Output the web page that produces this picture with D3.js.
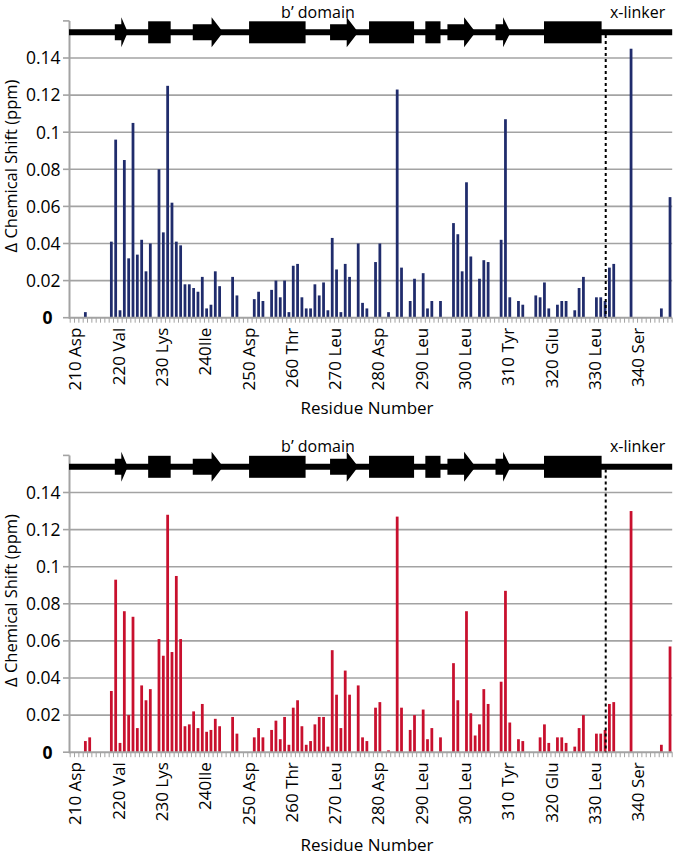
<!DOCTYPE html>
<html><head><meta charset="utf-8">
<script src="https://cdn.jsdelivr.net/npm/d3@7/dist/d3.min.js"></script>
<style>
body{margin:0;background:#fff}
svg text{font-family:"Open Sans",sans-serif;fill:#000}
</style></head>
<body><svg id="chart" width="675" height="856"></svg>
<script>
// ---------- DATA ----------
const firstResidue = 209, lastResidue = 347;
const residues = d3.range(firstResidue, lastResidue + 1);

// Δ chemical shift (ppm), one value per residue 209..347 (null = no data)
const shiftTop = [
 null,null,null,0.003,null,null,null,null,null,0.041,
 0.096,0.004,0.085,0.032,0.105,0.034,0.042,0.025,0.040,null,
 0.080,0.046,0.125,0.062,0.041,0.039,0.018,0.018,0.016,0.014,
 0.022,0.005,0.007,0.025,0.017,null,null,0.022,0.012,null,
 null,null,0.010,0.014,0.009,null,0.015,0.020,0.011,0.020,
 0.003,0.028,0.029,0.011,0.005,0.005,0.018,0.012,0.019,0.004,
 0.043,0.026,0.003,0.029,0.022,null,0.040,0.008,0.005,null,
 0.030,0.040,null,0.003,null,0.123,0.027,null,0.009,0.021,
 null,0.024,0.005,0.009,null,0.009,null,null,0.051,0.045,
 0.025,0.073,0.033,null,0.021,0.031,0.030,null,null,0.042,
 0.107,0.011,null,0.009,0.007,null,null,0.012,0.011,0.019,
 0.005,null,0.007,0.009,0.009,null,0.004,0.016,0.022,null,
 null,0.011,0.011,0.009,0.027,0.029,null,null,null,0.145,
 null,null,null,null,null,null,0.005,null,0.065
];
const shiftBottom = [
 null,null,null,0.006,0.008,null,null,null,null,0.033,
 0.093,0.005,0.076,0.020,0.073,0.013,0.036,0.028,0.034,null,
 0.061,0.052,0.128,0.054,0.095,0.061,0.014,0.015,0.022,0.013,
 0.026,0.011,0.012,0.018,0.014,null,null,0.019,0.010,null,
 null,null,0.008,0.013,0.008,null,0.012,0.017,0.007,0.019,
 0.004,0.024,0.028,0.014,0.004,0.006,0.015,0.019,0.019,0.003,
 0.055,0.031,0.013,0.044,0.031,null,0.036,0.008,0.006,null,
 0.024,0.027,null,0.001,null,0.127,0.024,null,0.012,0.020,
 null,0.023,0.007,0.013,null,0.008,null,null,0.048,0.028,
 null,0.076,0.021,0.009,0.015,0.034,0.026,null,null,0.038,
 0.087,0.016,null,0.007,0.006,null,null,null,0.008,0.015,
 0.005,null,0.008,0.008,0.005,null,0.003,0.013,0.020,null,
 null,0.010,0.010,0.012,0.026,0.027,null,null,null,0.130,
 null,null,null,null,null,null,0.004,null,0.057
];

const tickResidues = [210,220,230,240,250,260,270,280,290,300,310,320,330,340];
const tickLabels = ["210 Asp","220 Val","230 Lys","240Ile","250 Asp","260 Thr","270 Leu",
                    "280 Asp","290 Leu","300 Leu","310 Tyr","320 Glu","330 Leu","340 Ser"];
const yTicks = [0,0.02,0.04,0.06,0.08,0.1,0.12,0.14,0.16];
const yTickLabels = ["0","0.02","0.04","0.06","0.08","0.1","0.12","0.14",""];

// secondary structure (residue coordinates)
const structure = [
 {type:"strand", start:219.3, end:222.3},
 {type:"helix",  start:227.0, end:232.2},
 {type:"strand", start:237.3, end:244.3},
 {type:"helix",  start:250.3, end:263.35},
 {type:"strand", start:269.0, end:275.5},
 {type:"helix",  start:278.0, end:288.4},
 {type:"helix",  start:291.0, end:294.5},
 {type:"strand", start:296.1, end:302.6},
 {type:"strand", start:307.2, end:310.7},
 {type:"helix",  start:318.4, end:331.7}
];
const domainBoundary = 332.65;
const domainLabels = [{text:"b\u2019 domain", at:266.2},{text:"x-linker", at:340.0}];

// ---------- DRAW ----------
const svg = d3.select("#chart");
const X0 = 70.2, X1 = 672.2;
const x = d3.scaleBand().domain(residues).range([X0, X1]).paddingInner(0.36).paddingOuter(0.18);
const pos = d3.scaleLinear().domain([firstResidue, lastResidue + 1]).range([X0, X1]);
const y = d3.scaleLinear().domain([0, 0.16]).range([317.7, 20.9]);
const grey = "#a3a3a3";

function panel(values, color, dy, titleDy) {
  const g = svg.append("g").attr("transform", `translate(0,${dy})`);
  // gridlines
  g.selectAll(".grid").data(yTicks.filter(v => v > 0 && v < 0.15)).join("line")
    .attr("x1", 69).attr("x2", X1).attr("y1", d => y(d)).attr("y2", d => y(d))
    .attr("stroke", grey).attr("stroke-width", 1.6);
  // bars
  const data = residues.map((r, i) => ({r, v: values[i]})).filter(d => d.v != null);
  g.selectAll(".bar").data(data).join("rect")
    .attr("x", d => x(d.r)).attr("width", x.bandwidth())
    .attr("y", d => y(d.v)).attr("height", d => y(0) - y(d.v))
    .attr("fill", color);
  // x axis baseline + minor ticks
  g.append("line").attr("x1", 69).attr("x2", X1).attr("y1", y(0)).attr("y2", y(0))
    .attr("stroke", grey).attr("stroke-width", 2);
  g.selectAll(".mt").data(d3.range(firstResidue, lastResidue + 2)).join("line")
    .attr("x1", d => pos(d)).attr("x2", d => pos(d))
    .attr("y1", y(0)).attr("y2", y(0) + 5)
    .attr("stroke", grey).attr("stroke-width", 1);
  // y axis
  g.append("line").attr("x1", 69.5).attr("x2", 69.5).attr("y1", y(0.16)).attr("y2", y(0) + 1)
    .attr("stroke", grey).attr("stroke-width", 2);
  g.selectAll(".yt").data(yTicks).join("line")
    .attr("x1", 63).attr("x2", 69.5).attr("y1", d => y(d)).attr("y2", d => y(d))
    .attr("stroke", grey).attr("stroke-width", 1.6);
  g.selectAll(".yl").data(yTicks).join("text")
    .attr("x", (d) => d === 0 ? 52.5 : 60.5).attr("y", d => y(d)).attr("dy", "0.36em")
    .attr("text-anchor", "end").attr("font-size", 17.5)
    .attr("font-weight", d => d === 0 ? "bold" : "normal")
    .text((d, i) => yTickLabels[i]);
  // x tick labels
  g.selectAll(".xl").data(tickResidues).join("text")
    .attr("transform", d => `translate(${x(d) + x.bandwidth() / 2 - 1.5},${y(0) + 10}) rotate(-90)`)
    .attr("dy", "0.36em").attr("text-anchor", "end").attr("font-size", 17)
    .text((d, i) => tickLabels[i]);
  // titles
  g.append("text").attr("transform", `translate(16.5,166) rotate(-90)`)
    .attr("text-anchor", "middle").attr("font-size", 16.5).text("\u0394 Chemical Shift (ppm)");
  g.append("text").attr("x", 367).attr("y", 413.5 + titleDy).attr("text-anchor", "middle")
    .attr("font-size", 17).text("Residue Number");
  // secondary structure track
  const ty = 32.3;
  g.append("line").attr("x1", 69).attr("x2", X1).attr("y1", ty).attr("y2", ty)
    .attr("stroke", "#000").attr("stroke-width", 6);
  structure.forEach(s => {
    const a = pos(s.start), b = pos(s.end);
    if (s.type === "helix") {
      g.append("rect").attr("x", a).attr("y", ty - 11).attr("width", b - a).attr("height", 22).attr("fill", "#000");
    } else {
      const head = Math.min(11.5, (b - a) * 0.5);
      const h1 = 8, h2 = 15;
      g.append("path").attr("fill", "#000").attr("d",
        `M${a},${ty - h1}L${b - head},${ty - h1}L${b - head},${ty - h2}L${b},${ty}L${b - head},${ty + h2}L${b - head},${ty + h1}L${a},${ty + h1}Z`);
    }
  });
  g.append("line").attr("x1", pos(domainBoundary)).attr("x2", pos(domainBoundary))
    .attr("y1", 35).attr("y2", y(0)).attr("stroke", "#000").attr("stroke-width", 2)
    .attr("stroke-dasharray", "3,3");
  g.selectAll(".dl").data(domainLabels).join("text")
    .attr("x", d => pos(d.at)).attr("y", 17.5).attr("text-anchor", "middle")
    .attr("font-size", 16).text(d => d.text);
}

panel(shiftTop, "#202c6c", 0, 0);
panel(shiftBottom, "#c8102e", 434.5, 3);
</script>
</body></html>
